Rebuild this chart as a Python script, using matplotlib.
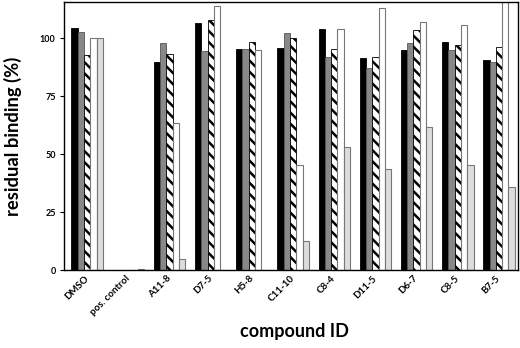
import matplotlib
matplotlib.use("Agg")
import matplotlib.pyplot as plt
import matplotlib.transforms as mtransforms
import numpy as np

categories = ["DMSO", "pos. control", "A11-8", "D7-5", "H5-8", "C11-10",
              "C8-4", "D11-5", "D6-7", "C8-5", "B7-5"]
series_black = [104.3, 0, 89.5, 106.5, 95.1, 95.8, 103.9, 91.2, 94.7, 98.1, 90.6]
series_gray = [102.5, 0, 98.0, 94.5, 95.4, 102.2, 91.8, 87.2, 97.7, 94.8, 89.5]
series_hatch = [92.5, 0, 93.2, 107.9, 98.4, 99.9, 95.1, 91.8, 103.3, 96.8, 96.3]
series_white = [100.0, 0, 63.2, 114.0, 94.7, 45.1, 103.9, 112.9, 107.0, 105.5, 116.0]
series_light = [100.0, 0.6, 4.9, 0, 0, 12.4, 53.0, 43.5, 61.8, 45.1, 35.6]
yticks = [0, 25, 50, 75, 100]

plt.rcParams['font.family'] = ['Lato', 'DejaVu Sans']
plt.rcParams['hatch.linewidth'] = 1.8
plt.rcParams['hatch.color'] = 'black'

fig = plt.figure(figsize=(5.2, 3.48), dpi=100)
ax = fig.add_axes([0.123, 0.224, 0.873, 0.770])

x = np.arange(len(categories))
w = 0.153
offs = (np.arange(5) - 2) * w

ax.bar(x + offs[0], series_black, w, color='black', edgecolor='black', linewidth=0.6)
ax.bar(x + offs[1], series_gray, w, color='#888888', edgecolor='#555555', linewidth=0.6)
ax.bar(x + offs[2], series_hatch, w, color='white', edgecolor='black', hatch='\\\\\\', linewidth=0.6)
ax.bar(x + offs[3], series_white, w, color='white', edgecolor='#777777', linewidth=0.8)
ax.bar(x + offs[4], series_light, w, color='#dddddd', edgecolor='#777777', linewidth=0.8)

ax.set_xlim(-0.564, 10.46)
ax.set_ylim(0, 115.5)
ax.set_yticks(yticks)
ax.set_yticklabels([str(v) for v in yticks], fontsize=6.5, fontweight='bold')
ax.set_xticks(x)
ax.set_xticklabels(categories, rotation=45, ha='right', va='center', rotation_mode='anchor',
                   fontsize=7, fontweight='bold')
offset = mtransforms.ScaledTranslation(-4 / 100, 0, fig.dpi_scale_trans)
for lab in ax.get_xticklabels():
    lab.set_transform(lab.get_transform() + offset)
ax.tick_params(axis='x', length=0, pad=5)
ax.tick_params(axis='y', length=3, width=0.8, pad=3)
for s in ax.spines.values():
    s.set_linewidth(1.0)
    s.set_color('black')

ax.set_ylabel("residual binding (%)", fontsize=13.2, fontweight='bold', labelpad=13)
fig.text(0.566, 0.023, "compound ID", fontsize=13, fontweight='bold', ha='center', va='bottom')

fig.savefig("out.png", dpi=100)
